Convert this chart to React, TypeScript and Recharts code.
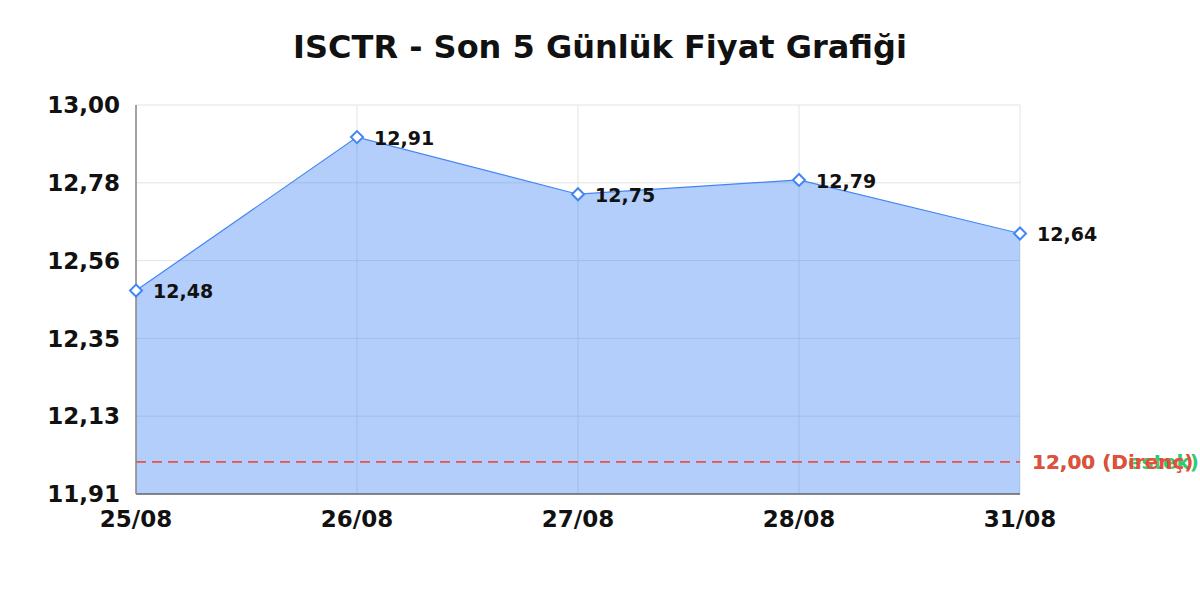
import React from "react";
import {
  AreaChart,
  Area,
  XAxis,
  YAxis,
  CartesianGrid,
  ReferenceLine,
  LabelList,
} from "recharts";

const dates = ["25/08", "26/08", "27/08", "28/08", "31/08"];
const prices = [12.48, 12.91, 12.75, 12.79, 12.64];
const yTicks = [11.91, 12.128, 12.346, 12.564, 12.782, 13.0];
const supportLevel = 12.0;
const resistanceLevel = 12.0;

const data = dates.map((d, i) => ({ date: d, price: prices[i] }));

const fmt = (v: number) => v.toFixed(2).replace(".", ",");
const FONT = "DejaVu Sans";

const Diamond = (props: any) => {
  const { cx, cy, index } = props;
  if (cx == null || cy == null) return <g key={`d-${index}`} />;
  const r = 6;
  return (
    <path
      key={`d-${index}`}
      d={`M${cx},${cy - r} L${cx + r},${cy} L${cx},${cy + r} L${cx - r},${cy} Z`}
      fill="#ffffff"
      stroke="#4285f4"
      strokeWidth={2}
    />
  );
};

export default function App() {
  return (
    <div
      style={{
        position: "absolute",
        left: 0,
        top: 0,
        width: 1200,
        height: 600,
        background: "#ffffff",
        fontFamily: FONT,
      }}
    >
      <div
        style={{
          position: "absolute",
          left: 0,
          top: 31,
          width: 1200,
          textAlign: "center",
          fontSize: 32,
          lineHeight: "32px",
          fontWeight: "bold",
          color: "#111",
          fontFamily: FONT,
        }}
      >
        ISCTR - Son 5 Günlük Fiyat Grafiği
      </div>
      <AreaChart
        width={1200}
        height={600}
        data={data}
        margin={{ top: 105, right: 180, bottom: 76, left: 0 }}
      >
        <CartesianGrid stroke="#e3e3e3" strokeWidth={1} />
        <XAxis
          dataKey="date"
          scale="point"
          height={30}
          padding={{ left: 0, right: 0 }}
          tickLine={false}
          tickSize={8}
          tickMargin={9}
          axisLine={{ stroke: "#666666", strokeWidth: 1.5 }}
          tick={{ fill: "#111", fontSize: 23, fontWeight: "bold", fontFamily: FONT }}
          interval={0}
        />
        <YAxis
          width={136}
          domain={[11.91, 13.0]}
          ticks={yTicks}
          tickFormatter={fmt}
          tickLine={false}
          tickSize={6}
          tickMargin={10}
          axisLine={{ stroke: "#888888", strokeWidth: 1.5 }}
          tick={{ fill: "#111", fontSize: 23, fontWeight: "bold", fontFamily: FONT }}
          interval={0}
        />
        <Area
          type="linear"
          dataKey="price"
          stroke="#4285f4"
          strokeWidth={1.2}
          fill="#4285f4"
          fillOpacity={0.4}
          dot={Diamond}
          activeDot={false}
          isAnimationActive={false}
        >
          <LabelList
            dataKey="price"
            position="right"
            offset={17}
            formatter={(v: any) => fmt(Number(v))}
            fill="#111"
            fontSize={19}
            fontWeight="bold"
            fontFamily={FONT}
            dy={1}
          />
        </Area>
        <ReferenceLine
          y={supportLevel}
          stroke="#2ecc71"
          strokeDasharray="10 6"
          strokeWidth={1}
          label={{
            value: `${fmt(supportLevel)} (Destek)`,
            position: "right",
            offset: 12,
            fill: "#2ecc71",
            fontSize: 20,
            fontWeight: "bold",
            fontFamily: FONT,
          }}
        />
        <ReferenceLine
          y={resistanceLevel}
          stroke="#ef5350"
          strokeDasharray="10 6"
          strokeWidth={1.8}
          label={{
            value: `${fmt(resistanceLevel)} (Direnç)`,
            position: "right",
            offset: 12,
            fill: "#e74c3c",
            fontSize: 20,
            fontWeight: "bold",
            fontFamily: FONT,
          }}
        />
      </AreaChart>
    </div>
  );
}
